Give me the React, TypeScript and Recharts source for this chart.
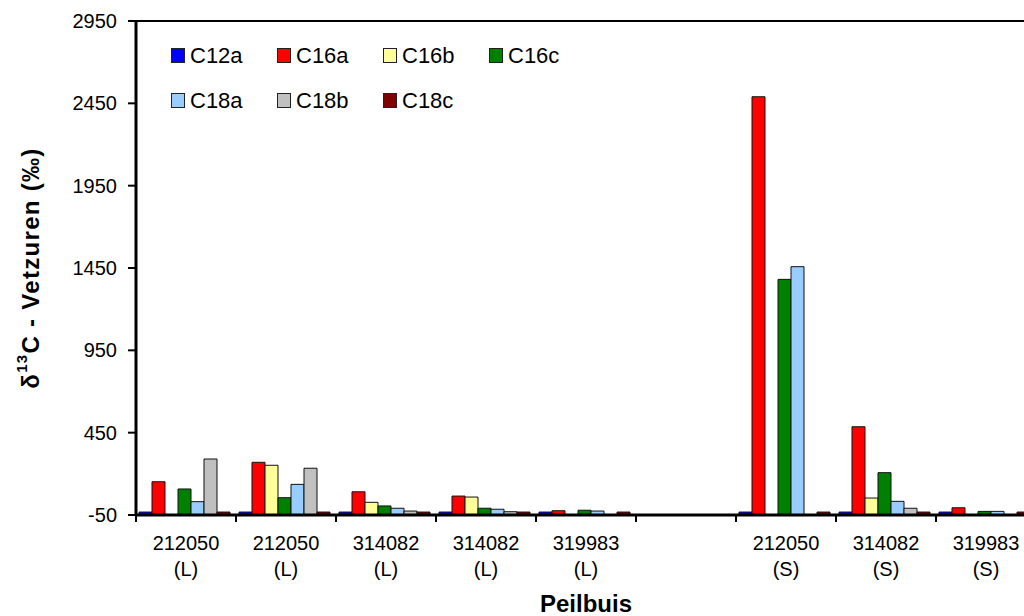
import React from "react";
import { BarChart, Bar, XAxis, YAxis, ReferenceLine } from "recharts";

const FONT = '"Liberation Sans", Arial, Helvetica, sans-serif';

// monitoring wells (peilbuizen) and layer, one column each
const wells = ["212050", "212050", "314082", "314082", "319983", "", "212050", "314082", "319983"];
const layers = ["(L)", "(L)", "(L)", "(L)", "(L)", "", "(S)", "(S)", "(S)"];

// delta 13C per fatty acid, null = not measured
const c12a = [-32, -32, -32, -32, -32, null, -32, -32, -32];
const c16a = [152, 270, 91, 65, -24, null, 2490, 486, -6];
const c16b = [null, 252, 27, 59, null, null, null, 53, null];
const c16c = [108, 55, 5, -9, -21, null, 1381, 207, -28];
const c18a = [31, 136, -9, -15, -26, null, 1458, 33, -28];
const c18b = [290, 234, -26, -30, null, null, null, -9, null];
const c18c = [-32, -32, -32, -32, -32, null, -32, -32, -32];

const yTicks = [-50, 450, 950, 1450, 1950, 2450, 2950];
const Y_MIN = -50;
const Y_MAX = 2950;

const series = [
  { key: "C12a", values: c12a, color: "#0000FF" },
  { key: "C16a", values: c16a, color: "#FF0000" },
  { key: "C16b", values: c16b, color: "#FFFF99" },
  { key: "C16c", values: c16c, color: "#008000" },
  { key: "C18a", values: c18a, color: "#99CCFF" },
  { key: "C18b", values: c18b, color: "#C0C0C0" },
  { key: "C18c", values: c18c, color: "#800000" },
];

const rows = wells.map((well, i) => {
  const row: Record<string, string | number | null> = { well, layer: layers[i] };
  series.forEach((s) => {
    row[s.key] = s.values[i];
  });
  return row;
});

const CHART_W = 1060;
const CHART_H = 616;
const PLOT_LEFT = 136;
const PLOT_RIGHT = 1036;
const BAND = (PLOT_RIGHT - PLOT_LEFT) / wells.length;

// two-line category label, tick marks sit on the category boundaries
function WellTick(props: any) {
  const { x, y, index } = props;
  const left = x - BAND / 2;
  const right = x + BAND / 2;
  return (
    <g>
      <line x1={left} x2={left} y1={y} y2={y + 7} stroke="#000" strokeWidth={2} />
      {index === wells.length - 1 && (
        <line x1={right} x2={right} y1={y} y2={y + 7} stroke="#000" strokeWidth={2} />
      )}
      <text x={x} y={y + 35} textAnchor="middle" fontSize={20} fontFamily={FONT} fill="#000">
        {wells[index]}
      </text>
      <text x={x} y={y + 61} textAnchor="middle" fontSize={20} fontFamily={FONT} fill="#000">
        {layers[index]}
      </text>
    </g>
  );
}

function XTitle(props: any) {
  const { viewBox } = props;
  return (
    <text
      x={viewBox.x + viewBox.width / 2}
      y={viewBox.y + 97}
      textAnchor="middle"
      fontSize={24}
      fontWeight="bold"
      fontFamily={FONT}
      fill="#000"
    >
      Peilbuis
    </text>
  );
}

function YTitle(props: any) {
  const { viewBox } = props;
  const cx = viewBox.x + 30;
  const cy = viewBox.y + viewBox.height / 2;
  return (
    <text
      x={cx}
      y={cy}
      transform={`rotate(-90 ${cx} ${cy})`}
      textAnchor="middle"
      dominantBaseline="central"
      fontSize={24}
      letterSpacing={1.3}
      fontWeight="bold"
      fontFamily={FONT}
      fill="#000"
    >
      <tspan>δ</tspan>
      <tspan fontSize={15} dy={-9}>13</tspan>
      <tspan dy={9}>C - Vetzuren (‰)</tspan>
    </text>
  );
}

function SeriesLegend() {
  return (
    <div
      style={{
        position: "absolute",
        left: 171,
        top: 33,
        width: 440,
        display: "flex",
        flexWrap: "wrap",
        fontFamily: FONT,
        fontSize: 22,
        color: "#000",
      }}
    >
      {series.map((s) => (
        <div
          key={s.key}
          style={{ width: 106, height: 45, display: "flex", alignItems: "center" }}
        >
          <span
            style={{
              display: "inline-block",
              width: 12,
              height: 13,
              background: s.color,
              border: "1px solid #222",
              marginRight: 5,
            }}
          />
          <span>{s.key}</span>
        </div>
      ))}
    </div>
  );
}

export default function App() {
  return (
    <div
      style={{
        position: "fixed",
        left: 0,
        top: 0,
        width: 1024,
        height: 616,
        overflow: "hidden",
        background: "#fff",
      }}
    >
      <BarChart
        width={CHART_W}
        height={CHART_H}
        data={rows}
        margin={{ top: 21, right: CHART_W - PLOT_RIGHT, bottom: 0, left: 0 }}
        barCategoryGap="3%"
        barGap={0}
      >
        <XAxis
          dataKey="well"
          height={101}
          interval={0}
          tickSize={0}
          tickMargin={0}
          tickLine={false}
          tick={<WellTick />}
          axisLine={{ stroke: "#000", strokeWidth: 3 }}
          label={<XTitle />}
        />
        <YAxis
          width={PLOT_LEFT}
          type="number"
          domain={[Y_MIN, Y_MAX]}
          ticks={yTicks}
          interval={0}
          tickSize={8}
          tickMargin={11}
          tickLine={{ stroke: "#000", strokeWidth: 2 }}
          axisLine={{ stroke: "#000", strokeWidth: 3 }}
          tick={{ fill: "#000", fontSize: 20, fontFamily: FONT }}
          label={<YTitle />}
        />
        <ReferenceLine y={Y_MAX} stroke="#000" strokeWidth={2} />
        {series.map((s) => (
          <Bar
            key={s.key}
            name={s.key}
            dataKey={(d: any) => (d[s.key] == null ? null : [Y_MIN, d[s.key]])}
            fill={s.color}
            stroke="#111"
            strokeWidth={1}
            isAnimationActive={false}
          />
        ))}
      </BarChart>
      <SeriesLegend />
    </div>
  );
}
